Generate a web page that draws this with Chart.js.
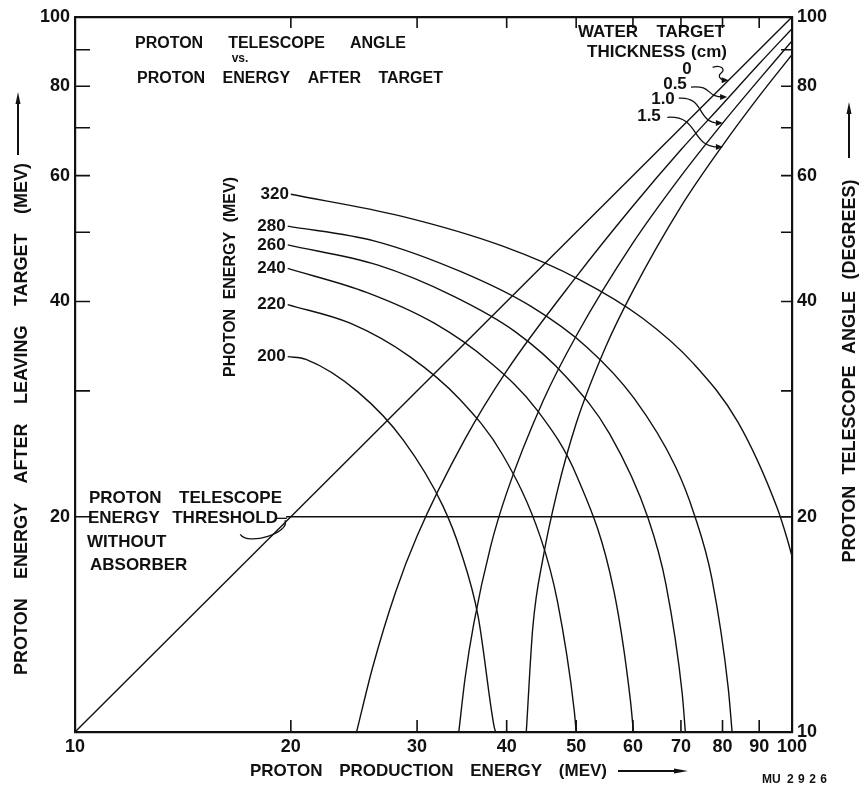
<!DOCTYPE html>
<html><head><meta charset="utf-8">
<script src="https://cdn.jsdelivr.net/npm/chart.js@4.4.1/dist/chart.umd.min.js"></script>
<style>html,body{margin:0;padding:0;background:#fff;}canvas{display:block;}</style>
</head><body>
<canvas id="c" width="864" height="790"></canvas>
<script>
// ================= DATA =================
const xTickValues = [10, 20, 30, 40, 50, 60, 70, 80, 90, 100];
const yLeftLabelValues = [20, 40, 60, 80, 100];
const yRightLabelValues = [10, 20, 40, 60, 80, 100];
const tickMarkValues = [20, 30, 40, 50, 60, 70, 80, 90];

// water target thickness curves: proton energy after target vs production energy
const thick0X = [10, 100];
const thick0Y = [10, 100];
const thick05X = [24.7, 26, 28, 30, 35, 40, 50, 60, 70, 80, 90, 100];
const thick05Y = [10, 12.3, 15.7, 18.8, 25.7, 32, 43.3, 54.4, 65.2, 75.5, 86, 96.3];
const thick10X = [34.3, 35, 36, 38, 40, 45, 50, 60, 70, 80, 90, 100];
const thick10Y = [10, 11.9, 14.2, 18.2, 21.6, 29.1, 35.8, 48.3, 59.9, 71, 81.8, 92.6];
const thick15X = [42.6, 43.5, 45, 47, 50, 55, 60, 70, 80, 90, 100];
const thick15Y = [10, 14, 17.6, 21.6, 27, 34.6, 41.4, 54.3, 66.1, 77.5, 88.6];

// photon energy curves: telescope angle vs production energy
const photonLabels = ['320', '280', '260', '240', '220', '200'];
const ph320X = [20.0, 28.4, 39.5, 50.6, 61.9, 73.0, 84.1, 95.3, 98.5, 100];
const ph320Y = [56.5, 52.7, 47.8, 42.9, 37.9, 32.7, 27.1, 20.6, 18.6, 17.6];
const ph280X = [19.8, 26.2, 34.6, 43.2, 51.8, 60.2, 68.8, 73.0, 77.3, 81.5, 82.5];
const ph280Y = [51.0, 48.6, 44.0, 39.4, 34.5, 29.3, 23.5, 20.2, 16.4, 11.5, 10];
const ph260X = [19.8, 26.4, 33.7, 41.1, 48.4, 55.7, 63.0, 66.7, 70.3, 71.0];
const ph260Y = [48.0, 45.0, 40.7, 36.3, 31.4, 26.1, 19.9, 16.1, 11.3, 10];
const ph240X = [19.8, 25.5, 31.7, 37.9, 44.1, 50.2, 56.4, 59.5, 60.1];
const ph240Y = [44.5, 41.2, 37.3, 32.9, 28.2, 22.7, 15.8, 11.1, 10];
const ph220X = [19.8, 24.2, 29.3, 34.4, 39.5, 44.6, 47.1, 49.7, 50.0];
const ph220Y = [39.6, 37.3, 33.5, 29.2, 24.4, 18.7, 15.2, 10.7, 10];
const ph200X = [19.8, 21.0, 24.8, 28.7, 32.6, 34.5, 36.5, 38.4, 38.6];
const ph200Y = [33.5, 33.2, 29.9, 25.6, 20.7, 17.9, 14.5, 10.2, 10];

// proton telescope energy threshold without absorber
const thresholdX = [19.7, 100];
const thresholdY = [20, 20];

// ================= BUILD =================
const pts = (xs, ys) => xs.map((x, i) => ({x: x, y: ys[i]}));
const photonSeries = [[ph320X, ph320Y], [ph280X, ph280Y], [ph260X, ph260Y], [ph240X, ph240Y], [ph220X, ph220Y], [ph200X, ph200Y]];
const lineStyle = {borderColor: '#111', borderWidth: 1.4, pointRadius: 0, fill: false, cubicInterpolationMode: 'monotone'};
const datasets = [];
[[thick0X, thick0Y], [thick05X, thick05Y], [thick10X, thick10Y], [thick15X, thick15Y]].forEach((s, i) =>
  datasets.push(Object.assign({label: 'thickness ' + i, data: pts(s[0], s[1])}, lineStyle)));
photonSeries.forEach((s, i) => datasets.push(Object.assign({label: photonLabels[i], data: pts(s[0], s[1])}, lineStyle)));
datasets.push(Object.assign({label: 'threshold', data: pts(thresholdX, thresholdY)}, lineStyle, {cubicInterpolationMode: 'default', tension: 0}));

const FONT = '"Liberation Sans", Arial, sans-serif';

function drawWords(ctx, list, x, y, total, align) {
  const ws = list.map(w => ctx.measureText(w).width);
  const sum = ws.reduce((a, b) => a + b, 0);
  const gap = list.length > 1 ? (total - sum) / (list.length - 1) : 0;
  const width = list.length > 1 ? total : sum;
  let cx = align === 'center' ? x - width / 2 : (align === 'right' ? x - width : x);
  ctx.textAlign = 'left';
  list.forEach((w, i) => { ctx.fillText(w, cx, y); cx += ws[i] + gap; });
}
function drawSpaced(ctx, text, x, y, total) {
  const chars = text.split('');
  const ws = chars.map(c => ctx.measureText(c).width);
  const sum = ws.reduce((a, b) => a + b, 0);
  const gap = Math.max(0, (total - sum) / (chars.length - 1));
  let cx = x;
  ctx.textAlign = 'left';
  chars.forEach((c, i) => { ctx.fillText(c, cx, y); cx += ws[i] + gap; });
}
function arrowHead(ctx, x, y, ang, len, wid) {
  ctx.save(); ctx.translate(x, y); ctx.rotate(ang);
  ctx.beginPath(); ctx.moveTo(0, 0); ctx.lineTo(-len, -wid); ctx.lineTo(-len, wid); ctx.closePath(); ctx.fill();
  ctx.restore();
}

const decor = {
  id: 'decor',
  afterDatasetsDraw(chart) {
    const ctx = chart.ctx;
    const xs = chart.scales.x, ys = chart.scales.y;
    const a = chart.chartArea;
    ctx.save();
    ctx.strokeStyle = '#111'; ctx.fillStyle = '#111'; ctx.lineWidth = 1.6;
    // inward tick marks on all four sides
    tickMarkValues.forEach(v => {
      const py = ys.getPixelForValue(v);
      const px = xs.getPixelForValue(v);
      ctx.beginPath();
      ctx.moveTo(a.left, py); ctx.lineTo(a.left + 15, py);
      ctx.moveTo(a.right, py); ctx.lineTo(a.right - 11, py);
      ctx.moveTo(px, a.bottom); ctx.lineTo(px, a.bottom - 12);
      ctx.moveTo(px, a.top); ctx.lineTo(px, a.top + 11);
      ctx.stroke();
    });

    ctx.textBaseline = 'middle';
    ctx.font = 'bold 16px ' + FONT;
    // title block
    drawWords(ctx, ['PROTON', 'TELESCOPE', 'ANGLE'], 135, 44, 271, 'left');
    drawWords(ctx, ['PROTON', 'ENERGY', 'AFTER', 'TARGET'], 137, 79, 306, 'left');
    ctx.font = 'bold 12px ' + FONT;
    drawWords(ctx, ['vs.'], 240, 59, 0, 'center');
    // water target legend
    ctx.font = 'bold 17px ' + FONT;
    drawWords(ctx, ['WATER', 'TARGET'], 578, 32, 147, 'left');
    drawWords(ctx, ['THICKNESS', '(cm)'], 587, 52, 140, 'left');
    drawWords(ctx, ['0'], 687, 69, 0, 'center');
    drawWords(ctx, ['0.5'], 675, 84, 0, 'center');
    drawWords(ctx, ['1.0'], 663, 99, 0, 'center');
    drawWords(ctx, ['1.5'], 649, 116, 0, 'center');

    // leaders from thickness labels (anchored in data coordinates)
    const leaders = [
      [[77.5, 85.0], [81.6, 81.6], 'squiggle'],
      [[72.3, 79.8], [81.2, 77.3], 's'],
      [[69.5, 77.0], [80.1, 71.1], 's'],
      [[67.0, 72.4], [80.1, 65.8], 's']
    ];
    ctx.lineWidth = 1.3;
    leaders.forEach(l => {
      const x0 = xs.getPixelForValue(l[0][0]), y0 = ys.getPixelForValue(l[0][1]);
      const x1 = xs.getPixelForValue(l[1][0]), y1 = ys.getPixelForValue(l[1][1]);
      ctx.beginPath(); ctx.moveTo(x0, y0);
      if (l[2] === 'squiggle') {
        ctx.bezierCurveTo(x0 + 8, y0 - 3, x0 + 14, y0 + 2, x0 + 8, y0 + 6);
        ctx.bezierCurveTo(x0 + 4, y0 + 9, x1 - 6, y1 + 2, x1 - 3, y1 - 1);
      } else {
        ctx.bezierCurveTo(x0 + (x1 - x0) * 0.6, y0 - 2, x0 + (x1 - x0) * 0.4, y1, x1 - 4, y1);
      }
      ctx.stroke();
      arrowHead(ctx, x1, y1, 0, 7, 3);
    });

    // photon energy labels at the curve starts
    ctx.font = 'bold 17px ' + FONT;
    photonSeries.forEach((s, i) => {
      const px = xs.getPixelForValue(s[0][0]) - 2;
      const py = ys.getPixelForValue(s[1][0]);
      drawWords(ctx, [photonLabels[i]], px, py, 0, 'right');
    });
    ctx.font = 'bold 16px ' + FONT;
    ctx.save(); ctx.translate(231, 277); ctx.rotate(-Math.PI / 2);
    drawWords(ctx, ['PHOTON', 'ENERGY', '(MEV)'], 0, 0, 200, 'center');
    ctx.restore();

    // threshold annotation
    ctx.font = 'bold 17px ' + FONT;
    drawWords(ctx, ['PROTON', 'TELESCOPE'], 89, 498, 193, 'left');
    drawWords(ctx, ['ENERGY', 'THRESHOLD'], 88, 518, 190, 'left');
    drawWords(ctx, ['WITHOUT'], 87, 542, 0, 'left');
    drawWords(ctx, ['ABSORBER'], 90, 565, 0, 'left');
    const t0x = xs.getPixelForValue(17.0), t0y = ys.getPixelForValue(18.9);
    const t1x = xs.getPixelForValue(19.5), t1y = ys.getPixelForValue(19.9);
    ctx.lineWidth = 1.3;
    ctx.beginPath(); ctx.moveTo(t0x, t0y);
    ctx.bezierCurveTo(t0x + 8, t0y + 12, t1x + 8, t1y + 14, t1x + 2, t1y + 2);
    ctx.stroke();
    ctx.beginPath(); ctx.moveTo(t1x - 8, t1y); ctx.lineTo(t1x + 4, t1y); ctx.stroke();

    // axis titles
    ctx.font = 'bold 18px ' + FONT;
    ctx.save(); ctx.translate(22, 419); ctx.rotate(-Math.PI / 2);
    drawWords(ctx, ['PROTON', 'ENERGY', 'AFTER', 'LEAVING', 'TARGET', '(MEV)'], 0, 0, 512, 'center');
    ctx.restore();
    ctx.save(); ctx.translate(850, 371); ctx.rotate(-Math.PI / 2);
    drawWords(ctx, ['PROTON', 'TELESCOPE', 'ANGLE', '(DEGREES)'], 0, 0, 383, 'center');
    ctx.restore();
    ctx.font = 'bold 17px ' + FONT;
    drawWords(ctx, ['PROTON', 'PRODUCTION', 'ENERGY', '(MEV)'], 250, 771, 357, 'left');
    // arrows of axis titles
    ctx.lineWidth = 2;
    ctx.beginPath(); ctx.moveTo(18, 155); ctx.lineTo(18, 100); ctx.stroke();
    arrowHead(ctx, 18, 92, -Math.PI / 2, 12, 2.5);
    ctx.beginPath(); ctx.moveTo(849, 158); ctx.lineTo(849, 110); ctx.stroke();
    arrowHead(ctx, 849, 102, -Math.PI / 2, 12, 2.5);
    ctx.beginPath(); ctx.moveTo(618, 771); ctx.lineTo(678, 771); ctx.stroke();
    arrowHead(ctx, 688, 771, 0, 14, 2.5);

    ctx.font = 'bold 12px ' + FONT;
    drawWords(ctx, ['MU'], 762, 780, 0, 'left');
    drawSpaced(ctx, '2926', 787, 780, 40);
    ctx.restore();
  }
};

const tickFont = {family: FONT, size: 18, weight: 'bold'};
function labelCb(list) { return function(v) { return list.indexOf(v) >= 0 ? String(v) : ''; }; }
function setTicks(list) { return function(s) { s.ticks = list.map(v => ({value: v})); }; }

new Chart(document.getElementById('c'), {
  type: 'line',
  data: {datasets: datasets},
  plugins: [decor],
  options: {
    responsive: false, animation: false, parsing: true,
    layout: {padding: 0},
    plugins: {legend: {display: false}, tooltip: {enabled: false}, title: {display: false}},
    scales: {
      x: {type: 'logarithmic', position: 'bottom', min: 10, max: 100,
          afterBuildTicks: setTicks(xTickValues),
          afterFit: s => { s.height = 58; },
          grid: {display: false, drawTicks: false},
          border: {display: true, width: 2.2, color: '#111'},
          ticks: {autoSkip: false, maxRotation: 0, padding: 4, color: '#111', font: tickFont, callback: labelCb(xTickValues)}},
      x2: {type: 'logarithmic', position: 'top', min: 10, max: 100,
          afterFit: s => { s.height = 17; },
          grid: {display: false, drawTicks: false},
          border: {display: true, width: 2.2, color: '#111'},
          ticks: {display: false}},
      y: {type: 'logarithmic', position: 'left', min: 10, max: 100,
          afterBuildTicks: setTicks([20, 40, 60, 80, 100]),
          afterFit: s => { s.width = 75; },
          grid: {display: false, drawTicks: false},
          border: {display: true, width: 2.2, color: '#111'},
          ticks: {autoSkip: false, padding: 5, color: '#111', font: tickFont, callback: labelCb(yLeftLabelValues)}},
      y2: {type: 'logarithmic', position: 'right', min: 10, max: 100,
          afterBuildTicks: setTicks(yRightLabelValues),
          afterFit: s => { s.width = 72; },
          grid: {display: false, drawTicks: false},
          border: {display: true, width: 2.2, color: '#111'},
          ticks: {autoSkip: false, padding: 5, color: '#111', font: tickFont, callback: labelCb(yRightLabelValues)}}
    }
  }
});
</script>
</body></html>
